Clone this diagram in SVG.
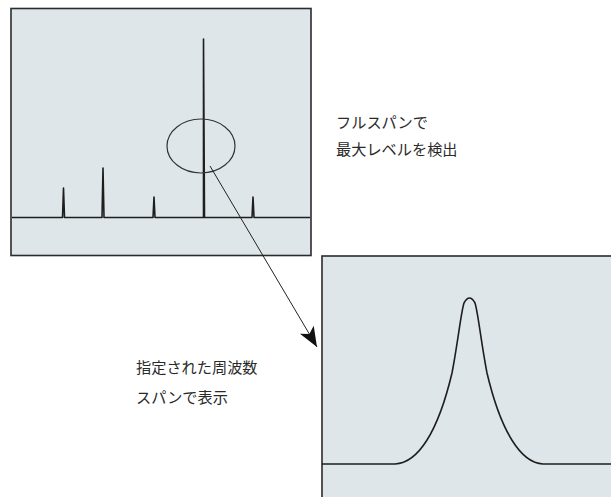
<svg xmlns="http://www.w3.org/2000/svg" width="611" height="497" viewBox="0 0 611 497">
<style>
.frame{fill:#dfe6e9;stroke:#2b2b2b;stroke-width:1.6}
.trace{fill:none;stroke:#1e1e1e;stroke-width:1.6;stroke-linejoin:round}
.lbl{font-family:"Noto Sans CJK JP","Noto Sans",sans-serif;font-size:15.2px;fill:#2a2a2a}
</style>
<defs>
<marker id="ah" markerWidth="22" markerHeight="18" refX="20" refY="8" orient="auto" markerUnits="userSpaceOnUse">
<path d="M0,0 L20,8 L0,16 L5,8 Z" fill="#111"/>
</marker>
</defs>
<g id="full-span">
<rect class="frame" x="11" y="8.5" width="300" height="247"/>
<path class="trace" d="M12,217.5 L62.5,217.5 L63.5,188 L64.5,217.5 L102,217.5 L103,168 L104,217.5 L153,217.5 L154,197 L155,217.5 L203.5,217.5 L203.5,39 L204.5,217.5 L252,217.5 L253,197 L254,217.5 L310,217.5"/>
<ellipse cx="201" cy="146" rx="34" ry="27" fill="none" stroke="#333" stroke-width="1.2"/>
</g>
<g id="zoom-span">
<rect class="frame" x="322" y="256" width="300" height="250"/>
<path class="trace" d="M322,464 L395,464 C418,463 438,432 452,373 C458,342 461,312 464,303 Q469.5,293 475,303 C478,312 481,342 487,373 C501,432 521,463 543,464 L611,464"/>
</g>
<g id="connectors">
<line x1="210" y1="166" x2="317" y2="347" stroke="#222" stroke-width="1" marker-end="url(#ah)"/>
</g>
<g id="label-top">
<text class="lbl" x="336" y="128">フルスパンで</text>
<text class="lbl" x="336" y="155">最大レベルを検出</text>
</g>
<g id="label-bottom">
<text class="lbl" x="136" y="373">指定された周波数</text>
<text class="lbl" x="136" y="403">スパンで表示</text>
</g>
</svg>
